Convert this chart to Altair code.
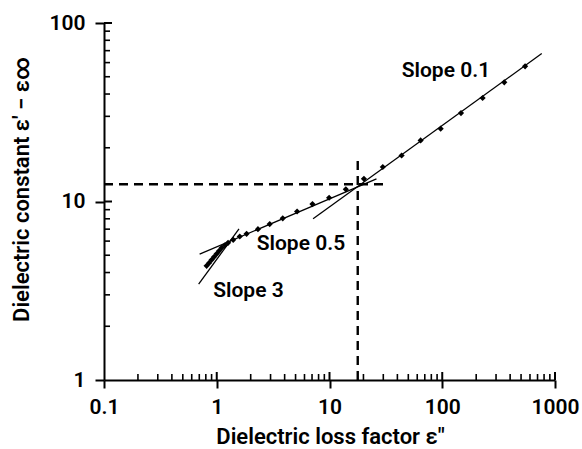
import altair as alt
import pandas as pd

# measured data: dielectric loss factor (x) vs dielectric constant (y)
loss_factor = [0.813, 0.856, 0.901, 0.948, 0.998, 1.05, 1.105, 1.18, 1.26,
               1.40, 1.60, 1.84, 2.32, 2.95, 3.85, 5.16, 7.06, 9.92, 13.96,
               20.2, 29.7, 43.6, 64.3, 96.8, 146.6, 228, 355, 543]
dielectric_const = [4.36, 4.53, 4.71, 4.90, 5.09, 5.29, 5.50, 5.68, 5.87,
                    6.10, 6.37, 6.59, 7.00, 7.47, 8.05, 8.79, 9.67, 10.5, 11.7,
                    13.4, 15.6, 18.1, 22.0, 25.6, 31.3, 38.0, 46.5, 57.2]

# fitted straight lines (endpoints)
fit_seg = ["a", "a", "b", "b", "c", "c"]
fit_x = [0.691, 1.575, 0.705, 26.1, 7.15, 763]
fit_y = [3.44, 7.03, 5.07, 13.4, 8.0, 67.4]

# dashed guide lines (crossover point)
guide_x = [0.1, 17.8]
guide_x2 = [31.6, 17.8]
guide_y = [12.5, 1.0]
guide_y2 = [12.5, 17.8]

# annotations
label_text = ["Slope 0.1", "Slope 0.5", "Slope 3"]
label_x = [43.7, 2.26, 0.93]
label_y = [49.6, 5.36, 2.93]

# axis ticks
x_major = [0.1, 1, 10, 100, 1000]
y_major = [1, 10, 100]
x_minor = [m * d for d in [0.1, 1, 10, 100] for m in range(2, 10)]
y_minor = [m * d for d in [1, 10] for m in range(2, 10)]

W, H = 451, 357
FONT = "Roboto"
FW = 600

xs = alt.Scale(type="log", domain=[0.1, 1000])
ys = alt.Scale(type="log", domain=[1, 100])

x_axis = alt.Axis(values=x_major, format="~g", title="Dielectric loss factor ε″",
                  tickSize=8, tickWidth=2, tickColor="black",
                  domainColor="black", domainWidth=2, grid=False,
                  labelFont=FONT, labelFontSize=21, labelFontWeight=FW,
                  labelColor="black", labelPadding=8, labelFlush=False,
                  titleFont=FONT, titleFontSize=22, titleFontWeight=FW,
                  titleColor="black", titleX=226, titleY=63,
                  titleAlign="center", titleBaseline="alphabetic", titleAnchor="start")
y_axis = alt.Axis(values=y_major, format="~g", title="Dielectric constant ε′ − ε∞",
                  tickSize=9, tickWidth=2, tickColor="black",
                  domainColor="black", domainWidth=2, grid=False,
                  labelFont=FONT, labelFontSize=21, labelFontWeight=FW,
                  labelColor="black", labelPadding=10, labelFlush=False,
                  titleFont=FONT, titleFontSize=22, titleFontWeight=FW,
                  titleColor="black", titleX=-76, titleY=166, titleAngle=-90,
                  titleAlign="center", titleBaseline="alphabetic", titleAnchor="start")

pts = pd.DataFrame({"x": loss_factor, "y": dielectric_const})
fits = pd.DataFrame({"seg": fit_seg, "x": fit_x, "y": fit_y})
guides = pd.DataFrame({"x": guide_x, "x2": guide_x2, "y": guide_y, "y2": guide_y2})
labels = pd.DataFrame({"t": label_text, "x": label_x, "y": label_y})
xmaj = pd.DataFrame({"x": x_major[1:-1] + [1000]})
xmin = pd.DataFrame({"x": x_minor})
ymaj = pd.DataFrame({"y": y_major[1:]})
ymin = pd.DataFrame({"y": y_minor})

points = alt.Chart(pts).mark_point(filled=True, shape="diamond", size=38,
                                   color="black", opacity=1).encode(
    x=alt.X("x:Q", scale=xs, axis=x_axis),
    y=alt.Y("y:Q", scale=ys, axis=y_axis),
)

lines = alt.Chart(fits).mark_line(color="black", strokeWidth=1.3).encode(
    x=alt.X("x:Q", scale=xs), y=alt.Y("y:Q", scale=ys), detail="seg:N")

dashed = alt.Chart(guides).mark_rule(color="black", strokeWidth=2.4,
                                     strokeDash=[9, 6]).encode(
    x=alt.X("x:Q", scale=xs), x2="x2:Q",
    y=alt.Y("y:Q", scale=ys), y2="y2:Q")

text = alt.Chart(labels).mark_text(align="left", baseline="alphabetic",
                                   font=FONT, fontSize=21, fontWeight=FW,
                                   color="black").encode(
    x=alt.X("x:Q", scale=xs), y=alt.Y("y:Q", scale=ys), text="t:N")

xmaj_in = alt.Chart(xmaj).mark_rule(color="black", strokeWidth=2).encode(
    x=alt.X("x:Q", scale=xs), y=alt.value(H), y2=alt.value(H - 8))
xmin_in = alt.Chart(xmin).mark_rule(color="black", strokeWidth=1.6).encode(
    x=alt.X("x:Q", scale=xs), y=alt.value(H), y2=alt.value(H - 6))
ymaj_in = alt.Chart(ymaj).mark_rule(color="black", strokeWidth=2).encode(
    y=alt.Y("y:Q", scale=ys), x=alt.value(0), x2=alt.value(8))
ymin_in = alt.Chart(ymin).mark_rule(color="black", strokeWidth=1.6).encode(
    y=alt.Y("y:Q", scale=ys), x=alt.value(0), x2=alt.value(6))

chart = alt.layer(points, lines, dashed, text, xmaj_in, xmin_in, ymaj_in, ymin_in).properties(
    width=W, height=H,
    autosize=alt.AutoSizeParams(type="none"),
    padding={"left": 104, "top": 23, "right": 27, "bottom": 69},
    background="white",
).configure_view(stroke=None)

chart.save("out.html", embed_options={"renderer": "svg", "actions": False})
